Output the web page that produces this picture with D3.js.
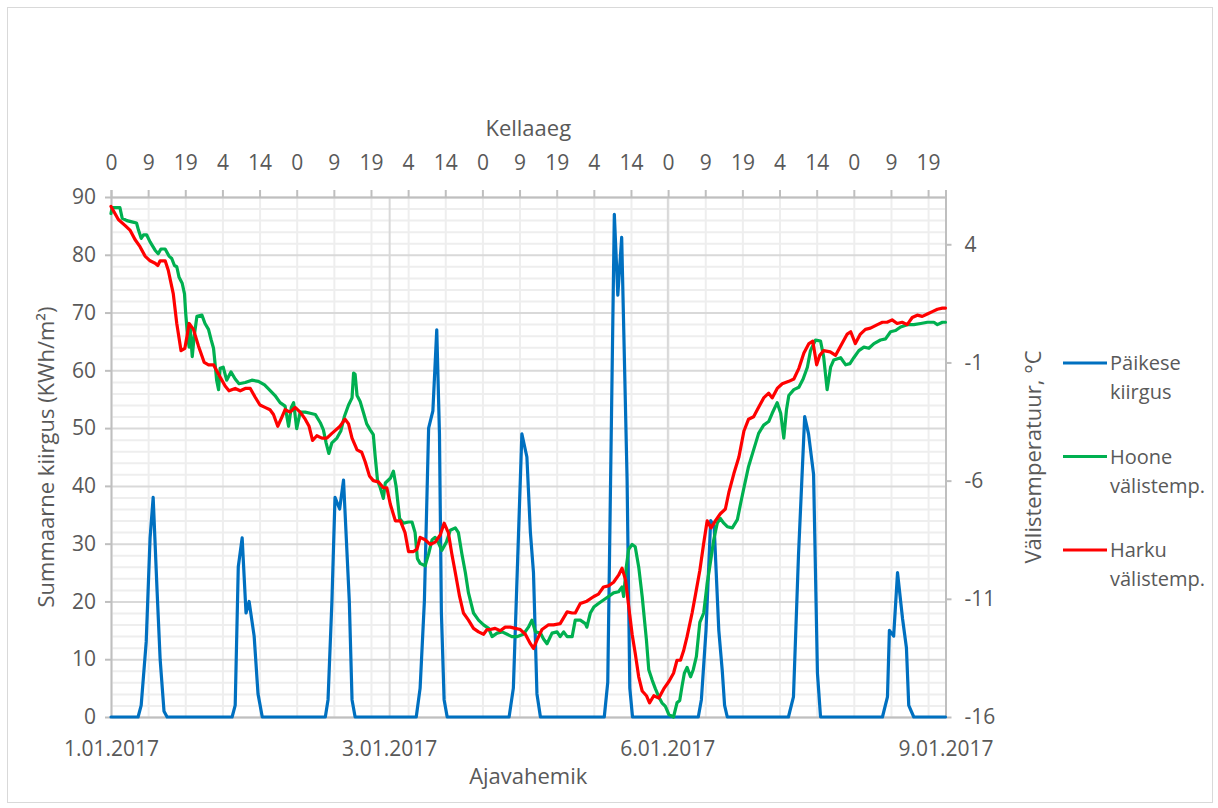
<!DOCTYPE html>
<html>
<head>
<meta charset="utf-8">
<script src="https://cdnjs.cloudflare.com/ajax/libs/d3/7.8.5/d3.min.js"></script>
<style>
	body { margin: 0; background: #fff; }
	text { font-family: "Open Sans", sans-serif; fill: #595959; }
</style>
</head>
<body>
<div id="chart"></div>
<script>
// x = tunnid alates 1.01.2017 00:00
// Päikese kiirgus, KWh/m2 (vasak telg)
const kiirgus = [
	[0,0],[7.0,0],[7.8,2],[9.1,13],[10.1,31],[10.9,38],[11.9,22],[12.7,10],[13.7,1],[14.5,0],
	[31.3,0],[32.1,2],[32.9,26],[33.9,31],[34.9,18],[35.7,20],[37.0,14],[38.0,4],[39.1,0],
	[55.4,0],[56.1,3],[57.1,20],[57.9,38],[59.1,36],[60.1,41],[61.6,20],[62.3,3],[63.1,0],
	[78.9,0],[79.9,5],[81.0,20],[82.1,50],[83.2,53],[84.2,67],[84.9,49],[85.4,18],[86.1,3],[86.9,0],
	[102.9,0],[104.0,5],[106.2,49],[107.5,45],[108.4,32],[109.2,25],[110.1,4],[111.0,0],
	[127.5,0],[128.4,6],[130.1,87],[131.0,73],[132.0,83],[133.4,41],[134.1,5],[134.8,0],
	[151.8,0],[152.6,3],[153.8,15],[155.0,34],[155.9,33],[157.1,15],[158.0,8],[158.6,2],[159.3,0],
	[175.1,0],[176.4,3.5],[177.7,28],[179.3,52],[180.3,49],[181.6,42],[182.6,7.6],[183.4,0],
	[199.4,0],[200.7,3.5],[201.2,15],[202.3,14],[203.3,25],[204.6,17],[205.6,12],[206.2,2],[207.5,0],[215.7,0]
];

// Hoone välistemp., °C (parem telg)
const hooneTemp = [
	[0,5.3],[0.3,5.55],[2.3,5.55],[2.9,5.1],[4.1,5.0],[5.4,4.95],[6.6,4.9],[7.1,4.6],[7.8,4.25],[8.4,4.4],
	[9.2,4.4],[10.1,4.1],[11.4,3.75],[12.2,3.6],[12.9,3.8],[14.0,3.8],[15.0,3.5],[15.7,3.4],[16.4,3.1],[17.0,3.05],
	[17.6,2.6],[18.4,2.35],[19.0,1.9],[19.3,1.1],[19.8,0.1],[20.2,-0.35],[20.5,0.4],[21.0,-0.75],[21.5,0.1],[22.2,0.95],
	[23.5,1.0],[24.3,0.65],[25.2,0.4],[25.9,-0.05],[26.5,-0.4],[26.9,-1.05],[27.3,-1.75],[27.8,-2.15],[28.2,-1.25],[29.0,-1.2],
	[29.9,-1.75],[31.0,-1.4],[32.1,-1.7],[33.1,-1.9],[34.7,-1.85],[36.4,-1.75],[38.1,-1.8],[39.7,-1.95],[40.9,-2.15],[42.4,-2.4],
	[43.7,-2.7],[45.0,-2.85],[45.9,-3.7],[46.6,-2.9],[47.2,-2.7],[48.0,-3.8],[48.9,-3.1],[50.2,-3.1],[51.5,-3.15],[52.8,-3.2],
	[54.1,-3.55],[54.9,-3.85],[55.6,-4.4],[56.3,-4.85],[57.1,-4.4],[58.4,-4.2],[59.4,-3.9],[60.3,-3.3],[61.4,-2.8],[62.3,-2.5],
	[62.7,-1.45],[63.1,-1.5],[63.6,-2.4],[64.4,-2.65],[65.3,-3.15],[66.1,-3.6],[67.0,-3.85],[67.8,-4.05],[68.3,-5.0],[68.9,-6.0],
	[69.6,-6.3],[70.4,-6.75],[70.9,-6.1],[72.2,-5.9],[73.0,-5.6],[73.7,-6.25],[74.6,-7.6],[75.6,-7.8],[76.9,-7.75],[77.8,-7.75],
	[78.6,-8.2],[79.2,-9.3],[79.9,-9.5],[81.2,-9.6],[82.1,-9.1],[83.0,-8.5],[83.8,-8.4],[84.7,-8.65],[85.5,-8.95],[86.7,-8.6],
	[87.7,-8.1],[89.0,-8.0],[89.8,-8.2],[90.7,-9.1],[91.6,-9.9],[92.4,-10.75],[93.7,-11.6],[95.0,-11.9],[96.3,-12.1],[97.6,-12.25],
	[98.5,-12.6],[99.8,-12.45],[101.1,-12.4],[102.4,-12.5],[103.6,-12.6],[104.9,-12.6],[106.6,-12.5],[107.9,-12.2],[108.8,-11.9],[109.7,-12.4],
	[111.0,-12.45],[111.8,-12.7],[112.7,-12.9],[114.0,-12.45],[115.3,-12.4],[116.1,-12.6],[117.0,-12.4],[117.9,-12.6],[119.2,-12.6],[120.0,-11.9],
	[121.3,-11.9],[122.6,-12.05],[123.0,-12.2],[123.9,-11.6],[124.8,-11.35],[126.0,-11.2],[127.3,-11.05],[128.6,-10.9],[129.9,-10.75],[131.2,-10.7],
	[132.1,-10.5],[132.5,-10.9],[133.2,-9.65],[133.8,-8.9],[134.7,-8.7],[135.5,-8.8],[136.4,-9.65],[137.3,-10.9],[138.4,-12.75],[139.0,-14.0],
	[139.9,-14.45],[140.7,-14.8],[141.6,-15.15],[142.4,-15.4],[143.3,-15.55],[144.2,-15.9],[145.4,-16.0],[146.3,-15.4],[147.0,-15.3],[147.6,-14.7],
	[148.2,-14.15],[148.9,-13.9],[149.8,-14.3],[150.5,-14.0],[151.3,-13.45],[152.2,-12.0],[153.2,-11.6],[154.1,-10.35],[154.9,-9.5],[155.8,-8.5],
	[156.7,-7.8],[157.5,-7.6],[158.4,-7.8],[159.3,-7.95],[160.6,-8.0],[161.9,-7.65],[162.7,-7.0],[163.6,-6.3],[164.8,-5.4],[166.1,-4.7],
	[167.4,-4.0],[168.7,-3.65],[170.0,-3.5],[170.9,-3.15],[172.2,-2.7],[173.1,-3.15],[173.9,-4.2],[174.6,-3.0],[175.2,-2.4],[176.5,-2.15],
	[177.8,-2.05],[178.9,-1.7],[180.0,-1.2],[180.8,-0.5],[182.1,-0.05],[183.4,-0.1],[184.2,-0.75],[185.1,-2.15],[186.0,-1.2],[186.8,-0.9],
	[188.6,-0.8],[189.9,-1.1],[191.0,-1.05],[192.0,-0.8],[193.3,-0.5],[194.6,-0.35],[195.9,-0.4],[197.2,-0.2],[198.9,-0.05],[200.2,0.0],
	[201.5,0.3],[202.8,0.35],[204.1,0.5],[205.8,0.6],[207.5,0.6],[209.3,0.65],[211.0,0.7],[212.7,0.7],[213.6,0.6],[214.9,0.7],[215.7,0.7]
];

// Harku välistemp., °C (parem telg)
const harkuTemp = [
	[0,5.6],[1.9,5.05],[3.6,4.8],[4.9,4.6],[6.2,4.2],[7.5,3.9],[8.8,3.5],[10.1,3.3],[11.4,3.2],[12.1,3.1],
	[12.7,3.3],[14.0,3.3],[14.8,2.9],[16.1,1.9],[17.0,0.65],[18.1,-0.5],[19.1,-0.4],[20.2,0.65],[21.3,0.4],[22.6,-0.3],
	[24.1,-1.0],[25.2,-1.1],[26.5,-1.1],[27.8,-1.5],[29.5,-2.0],[30.5,-2.2],[32.1,-2.1],[33.4,-2.2],[34.7,-2.1],[36.0,-2.1],
	[37.2,-2.45],[38.5,-2.8],[39.8,-2.9],[41.1,-3.0],[42.0,-3.2],[43.1,-3.7],[44.2,-3.3],[45.0,-3.0],[46.3,-3.1],[47.6,-2.9],
	[48.9,-3.1],[50.2,-3.4],[51.2,-3.7],[52.1,-4.3],[53.2,-4.1],[54.5,-4.2],[55.8,-4.2],[57.1,-4.0],[59.2,-3.7],[60.5,-3.4],
	[61.4,-3.6],[62.3,-4.2],[63.6,-4.7],[64.8,-4.8],[65.7,-5.2],[66.8,-5.8],[67.8,-6.0],[69.1,-6.05],[70.4,-6.3],[71.3,-6.3],
	[72.2,-7.0],[73.5,-7.7],[74.8,-7.7],[76.0,-8.2],[76.9,-9.0],[78.2,-9.0],[79.1,-8.9],[79.9,-8.4],[81.2,-8.5],[82.5,-8.7],
	[83.8,-8.6],[85.1,-8.3],[86.1,-7.8],[87.2,-8.2],[88.1,-9.1],[89.0,-9.9],[90.1,-10.9],[91.1,-11.6],[92.4,-11.9],[93.7,-12.25],
	[95.0,-12.4],[96.3,-12.5],[97.2,-12.3],[98.0,-12.3],[99.3,-12.25],[100.6,-12.35],[101.9,-12.2],[103.2,-12.2],[104.5,-12.25],[105.8,-12.3],
	[107.1,-12.5],[108.4,-12.9],[109.2,-13.1],[110.1,-12.75],[111.4,-12.3],[113.1,-12.1],[114.4,-12.1],[116.1,-12.05],[117.9,-11.55],[119.2,-11.6],
	[120.0,-11.6],[121.3,-11.2],[123.0,-11.1],[124.8,-10.9],[126.0,-10.8],[127.3,-10.5],[128.6,-10.45],[129.9,-10.3],[131.2,-10.0],[132.1,-9.7],
	[133.0,-10.2],[133.8,-11.3],[134.7,-12.5],[135.5,-13.3],[136.4,-14.3],[137.3,-14.9],[138.4,-15.1],[139.2,-15.4],[140.3,-15.1],[141.6,-15.2],
	[142.9,-14.8],[144.2,-14.5],[145.4,-14.15],[146.3,-13.6],[147.2,-13.6],[148.0,-13.2],[148.9,-12.6],[150.2,-11.6],[151.1,-10.8],[152.2,-9.8],
	[153.2,-8.65],[154.1,-7.7],[155.1,-8.0],[156.2,-7.7],[157.5,-7.4],[158.8,-7.2],[159.7,-6.5],[161.0,-5.7],[162.3,-5.0],[163.6,-3.9],
	[164.8,-3.4],[166.1,-3.3],[167.4,-2.9],[168.7,-2.5],[170.0,-2.3],[170.9,-2.5],[172.2,-2.1],[173.5,-1.9],[175.2,-1.8],[176.5,-1.7],
	[177.8,-1.25],[179.1,-0.6],[180.4,-0.2],[181.4,-0.1],[182.4,-1.1],[183.2,-0.7],[184.2,-0.5],[185.9,-0.55],[187.3,-0.7],[188.6,-0.3],
	[190.3,0.2],[191.2,0.3],[192.4,-0.2],[193.7,0.2],[195.0,0.4],[196.3,0.45],[198.1,0.6],[199.4,0.7],[200.6,0.7],[201.9,0.8],
	[203.2,0.65],[204.5,0.7],[205.8,0.6],[207.1,0.9],[208.4,1.0],[209.7,0.95],[211.0,1.05],[212.3,1.15],[213.6,1.25],[214.9,1.3],[215.7,1.3]
];

// telgede sildid
const kellaLabels = ["0","9","19","4","14","0","9","19","4","14","0","9","19","4","14","0","9","19","4","14","0","9","19"];
const kellaSamm = 9.6; // tundi siltide vahel
const kuupLabels = ["1.01.2017","3.01.2017","6.01.2017","9.01.2017"];
const kuupTunnid = [0, 71.9, 143.8, 215.7];
const kiirgusTicks = [0,10,20,30,40,50,60,70,80,90];
const tempTicks = [-16,-11,-6,-1,4];
const legendLabels = [["Päikese","kiirgus"],["Hoone","välistemp."],["Harku","välistemp."]];

var KiirgusChart = function(view, W, H){
	const s = this;

	const
		L = 111, R = 945.5, T = 197, B = 717,
		colors = ["#0070c0", "#00b050", "#ff0000"],
		AXIS = "#bfbfbf", GRID = "#d9d9d9", MINOR = "#eeeeee";

	var svg, x, yL, yR;

	s.init = function(){
		svg = d3.select(view).append("svg")
			.attr("width", W)
			.attr("height", H);
		svg.append("rect")
			.attr("x", 7.5).attr("y", 7.5)
			.attr("width", W - 13).attr("height", H - 13)
			.attr("fill", "#fff").attr("stroke", GRID);

		x = d3.scaleLinear().domain([0, 215.7]).range([L, R]);
		yL = d3.scaleLinear().domain([0, 90]).range([B, T]);
		yR = d3.scaleLinear().domain([-16, 6]).range([B, T]);

		s.drawGrid();
		s.drawAxes();
		s.drawLines();
		s.drawTitles();
		s.drawLegend();
	}

	s.drawGrid = function(){
		var kellaTunnid = kellaLabels.map((d, i) => i * kellaSamm);
		// vertikaalsed abijooned
		svg.append("g")
			.attr("transform", "translate(0," + T + ")")
			.call(d3.axisTop(x).tickValues(kellaTunnid).tickSize(-(B - T)).tickFormat(""))
			.call(g => g.select(".domain").remove())
			.selectAll("line").attr("stroke", MINOR).attr("stroke-width", 2);
		// horisontaalsed
		svg.append("g")
			.attr("transform", "translate(" + L + ",0)")
			.call(d3.axisLeft(yL).tickValues(d3.range(0, 91, 2)).tickSize(-(R - L)).tickFormat(""))
			.call(g => g.select(".domain").remove())
			.selectAll("line")
			.attr("stroke", d => d % 10 == 0 ? GRID : MINOR)
			.attr("stroke-width", 2);
		// põhijooned kuupäevade kohal
		svg.append("g")
			.attr("transform", "translate(0," + T + ")")
			.call(d3.axisTop(x).tickValues(kuupTunnid.slice(1, 3)).tickSize(-(B - T)).tickFormat(""))
			.call(g => g.select(".domain").remove())
			.selectAll("line").attr("stroke", GRID).attr("stroke-width", 2);
	}

	s.styleAxis = function(g){
		g.attr("font-family", null).attr("font-size", null);
		g.selectAll("path, line").attr("stroke", AXIS).attr("stroke-width", 2);
		g.selectAll("text").style("font-size", "21px").attr("fill", "#595959");
	}

	s.drawAxes = function(){
		var kellaTunnid = kellaLabels.map((d, i) => i * kellaSamm);

		svg.append("g")
			.attr("transform", "translate(0," + B + ")")
			.call(d3.axisBottom(x).tickValues(kuupTunnid).tickFormat((d, i) => kuupLabels[i])
				.tickSize(0).tickSizeOuter(0).tickPadding(24))
			.call(s.styleAxis);

		svg.append("g")
			.attr("transform", "translate(0," + T + ")")
			.call(d3.axisTop(x).tickValues(kellaTunnid).tickFormat((d, i) => kellaLabels[i])
				.tickSize(7).tickSizeOuter(7).tickPadding(20))
			.call(s.styleAxis);

		svg.append("g")
			.attr("transform", "translate(" + L + ",0)")
			.call(d3.axisLeft(yL).tickValues(kiirgusTicks).tickSize(6).tickSizeOuter(0).tickPadding(9))
			.call(s.styleAxis);

		// sidekriips, mitte unicode miinus
		svg.append("g")
			.attr("transform", "translate(" + R + ",0)")
			.call(d3.axisRight(yR).tickValues(tempTicks).tickFormat(d => "" + d)
				.tickSize(6).tickSizeOuter(0).tickPadding(13))
			.call(s.styleAxis);
	}

	s.drawLines = function(){
		var lineL = d3.line().x(d => x(d[0])).y(d => yL(d[1]));
		var lineR = d3.line().x(d => x(d[0])).y(d => yR(d[1]));

		[[kiirgus, lineL], [hooneTemp, lineR], [harkuTemp, lineR]].forEach(function(o, i){
			svg.append("path")
				.datum(o[0])
				.attr("d", o[1])
				.attr("fill", "none")
				.attr("stroke", colors[i])
				.attr("stroke-width", 3.2)
				.attr("stroke-linejoin", "round")
				.attr("stroke-linecap", "round");
		});
	}

	s.drawTitles = function(){
		svg.append("text")
			.attr("x", (L + R) / 2).attr("y", 136)
			.attr("text-anchor", "middle").style("font-size", "22px")
			.text("Kellaaeg");
		svg.append("text")
			.attr("x", (L + R) / 2).attr("y", 784)
			.attr("text-anchor", "middle").style("font-size", "22px")
			.text("Ajavahemik");
		svg.append("text")
			.attr("transform", "translate(54," + (T + B) / 2 + ") rotate(-90)")
			.attr("text-anchor", "middle").style("font-size", "22px")
			.text("Summaarne kiirgus (KWh/m²)");
		svg.append("text")
			.attr("transform", "translate(1041," + (T + B) / 2 + ") rotate(-90)")
			.attr("text-anchor", "middle").style("font-size", "22px")
			.text("Välistemperatuur, °C");
	}

	s.drawLegend = function(){
		var legend = svg.selectAll(".legend")
			.data(legendLabels)
			.enter().append("g")
			.attr("class", "legend")
			.attr("transform", function(d, i) { return "translate(0," + (363 + i * 93.5) + ")"; });
		legend.append("line")
			.attr("x1", 1063).attr("x2", 1107)
			.attr("stroke", (d, i) => colors[i])
			.attr("stroke-width", 3);
		legend.append("text")
			.attr("x", 1110).attr("y", 0).attr("dy", ".35em")
			.style("font-size", "20px")
			.text(d => d[0]);
		legend.append("text")
			.attr("x", 1110).attr("y", 29).attr("dy", ".35em")
			.style("font-size", "20px")
			.text(d => d[1]);
	}
}

new KiirgusChart("#chart", 1218, 808).init();
</script>
</body>
</html>
